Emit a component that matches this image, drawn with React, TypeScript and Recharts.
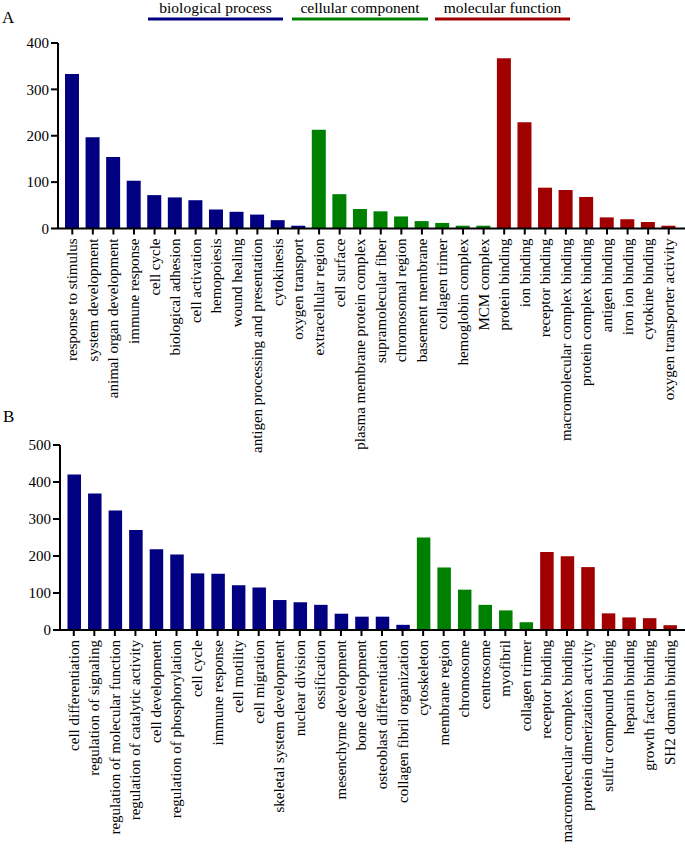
import { BarChart, Bar, XAxis, YAxis, Cell } from "recharts";

const FONT = "'Liberation Serif', 'Times New Roman', Times, serif";
const BLUE = "#000080";
const GREEN = "#008000";
const RED = "#a00000";

// Panel A
const bpLabelsA = [
  "response to stimulus",
  "system development",
  "animal organ development",
  "immune response",
  "cell cycle",
  "biological adhesion",
  "cell activation",
  "hemopoiesis",
  "wound healing",
  "antigen processing and presentation",
  "cytokinesis",
  "oxygen transport",
];
const bpValuesA = [333, 197, 154, 103, 72, 67, 61, 41, 36, 30, 18, 6];

const ccLabelsA = [
  "extracellular region",
  "cell surface",
  "plasma membrane protein complex",
  "supramolecular fiber",
  "chromosomal region",
  "basement membrane",
  "collagen trimer",
  "hemoglobin complex",
  "MCM complex",
];
const ccValuesA = [213, 74, 42, 37, 26, 16, 12, 6, 6];

const mfLabelsA = [
  "protein binding",
  "ion binding",
  "receptor binding",
  "macromolecular complex binding",
  "protein complex binding",
  "antigen binding",
  "iron ion binding",
  "cytokine binding",
  "oxygen transporter activity",
];
const mfValuesA = [367, 229, 88, 83, 68, 24, 20, 14, 6];

// Panel B
const bpLabelsB = [
  "cell differentiation",
  "regulation of signaling",
  "regulation of molecular function",
  "regulation of catalytic activity",
  "cell development",
  "regulation of phosphorylation",
  "cell cycle",
  "immune response",
  "cell motility",
  "cell migration",
  "skeletal system development",
  "nuclear division",
  "ossification",
  "mesenchyme development",
  "bone development",
  "osteoblast differentiation",
  "collagen fibril organization",
];
const bpValuesB = [420, 369, 323, 270, 218, 204, 153, 152, 121, 115, 81, 75, 68, 44, 36, 36, 14];

const ccLabelsB = [
  "cytoskeleton",
  "membrane region",
  "chromosome",
  "centrosome",
  "myofibril",
  "collagen trimer",
];
const ccValuesB = [250, 169, 109, 68, 53, 21];

const mfLabelsB = [
  "receptor binding",
  "macromolecular complex binding",
  "protein dimerization activity",
  "sulfur compound binding",
  "heparin binding",
  "growth factor binding",
  "SH2 domain binding",
];
const mfValuesB = [211, 199, 170, 45, 34, 32, 13];

const ticksA = [0, 100, 200, 300, 400];
const ticksB = [0, 100, 200, 300, 400, 500];

const build = (
  groups: { labels: string[]; values: number[]; color: string }[]
) =>
  groups.flatMap((g) =>
    g.labels.map((name, i) => ({ name, value: g.values[i], color: g.color }))
  );

const dataA = build([
  { labels: bpLabelsA, values: bpValuesA, color: BLUE },
  { labels: ccLabelsA, values: ccValuesA, color: GREEN },
  { labels: mfLabelsA, values: mfValuesA, color: RED },
]);

const dataB = build([
  { labels: bpLabelsB, values: bpValuesB, color: BLUE },
  { labels: ccLabelsB, values: ccValuesB, color: GREEN },
  { labels: mfLabelsB, values: mfValuesB, color: RED },
]);

const axisStyle = { stroke: "#000", strokeWidth: 2 };
const textStyle = { fontFamily: FONT, fontSize: 15 };

function RotTick(props: any) {
  const { x, y, payload } = props;
  return (
    <text
      x={0}
      y={0}
      transform={`translate(${x},${y}) rotate(-90)`}
      textAnchor="end"
      dy="0.33em"
      style={textStyle}
      fill="#000"
    >
      {payload.value}
    </text>
  );
}

function YTick(props: any) {
  const { x, y, payload } = props;
  return (
    <text x={x} y={y} dy="0.35em" textAnchor="end" style={textStyle} fill="#000">
      {payload.value}
    </text>
  );
}

interface PanelProps {
  data: { name: string; value: number; color: string }[];
  height: number;
  top: number;
  left: number;
  xAxisHeight: number;
  max: number;
  ticks: number[];
  padLeft: number;
  padRight: number;
  barSize: number;
}

function Panel({
  data,
  height,
  top,
  left,
  xAxisHeight,
  max,
  ticks,
  padLeft,
  padRight,
  barSize,
}: PanelProps) {
  return (
    <BarChart
      width={685}
      height={height}
      data={data}
      margin={{ top, right: 0, left, bottom: 0 }}
      barSize={barSize}
    >
      <XAxis
        dataKey="name"
        interval={0}
        height={xAxisHeight}
        axisLine={axisStyle}
        tickLine={axisStyle}
        tickSize={6}
        tickMargin={4}
        padding={{ left: padLeft, right: padRight }}
        tick={(p: any) => <RotTick {...p} />}
      />
      <YAxis
        width={50}
        domain={[0, max]}
        ticks={ticks}
        interval={0}
        axisLine={axisStyle}
        tickLine={axisStyle}
        tickSize={7}
        tickMargin={2}
        tick={(p: any) => <YTick {...p} />}
      />
      <Bar dataKey="value" isAnimationActive={false}>
        {data.map((d, i) => (
          <Cell key={i} fill={d.color} />
        ))}
      </Bar>
    </BarChart>
  );
}

const headers = [
  { text: "biological process", x1: 148, x2: 283, color: BLUE },
  { text: "cellular component", x1: 292, x2: 428, color: GREEN },
  { text: "molecular function", x1: 435, x2: 570, color: RED },
];

export default function App() {
  return (
    <div
      style={{
        position: "absolute",
        left: 0,
        top: 0,
        width: 685,
        height: 850,
        background: "#fff",
        fontFamily: FONT,
      }}
    >
      <div style={{ position: "absolute", left: 0, top: 0 }}>
        <Panel
          data={dataA}
          height={480}
          top={43}
          left={8}
          xAxisHeight={251.5}
          max={400}
          ticks={ticksA}
          padLeft={4}
          padRight={6}
          barSize={14}
        />
      </div>
      <div style={{ position: "absolute", left: 0, top: 430 }}>
        <Panel
          data={dataB}
          height={420}
          top={15}
          left={10}
          xAxisHeight={220}
          max={500}
          ticks={ticksB}
          padLeft={3.5}
          padRight={5}
          barSize={13.5}
        />
      </div>
      <svg
        width={685}
        height={430}
        style={{ position: "absolute", left: 0, top: 0, pointerEvents: "none" }}
      >
        {headers.map((h) => (
          <g key={h.text}>
            <text
              x={(h.x1 + h.x2) / 2}
              y={12.5}
              textAnchor="middle"
              style={{ fontFamily: FONT, fontSize: 15.5 }}
              fill="#000"
            >
              {h.text}
            </text>
            <line
              x1={h.x1}
              x2={h.x2}
              y1={19}
              y2={19}
              stroke={h.color}
              strokeWidth={3}
            />
          </g>
        ))}
        <text x={2} y={23} style={{ fontFamily: FONT, fontSize: 17 }} fill="#000">
          A
        </text>
        <text x={3} y={422} style={{ fontFamily: FONT, fontSize: 17 }} fill="#000">
          B
        </text>
      </svg>
    </div>
  );
}
